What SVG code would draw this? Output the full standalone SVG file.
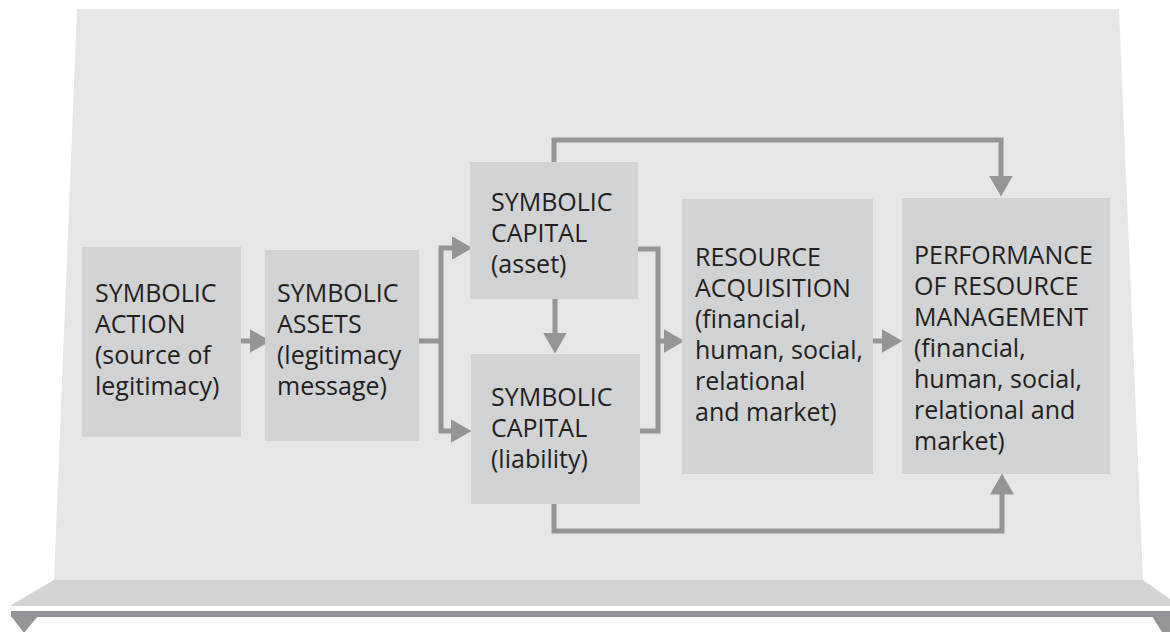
<svg xmlns="http://www.w3.org/2000/svg" width="1170" height="632" viewBox="0 0 1170 632">
<style>
.box{fill:#d1d2d4}
.t{font-family:"Open Sans","Liberation Sans",sans-serif;font-size:25px;fill:#231f20}
.c{fill:none;stroke:#939598;stroke-width:5;stroke-linejoin:miter}
.a{marker-end:url(#ah)}
</style>
<defs>
<marker id="ah" viewBox="0 -12 21 24" markerWidth="21" markerHeight="24" refX="0.5" refY="0" markerUnits="userSpaceOnUse" orient="auto">
<path d="M0,-12 L21,0 L0,12 z" fill="#939598"/>
</marker>
</defs>
<rect width="1170" height="632" fill="#ffffff"/>
<g id="stand">
<polygon points="77,9 1119,9 1143,580 54,580" fill="#e5e6e8"/>
<polygon points="54,580 1143,580 1170,599 1170,606 11,606 11,605" fill="#d2d3d5"/>
<rect x="11" y="611" width="1159" height="6" fill="#939598"/>
<polygon points="11,616 38,616 24,633" fill="#939598"/>
<polygon points="1152,616 1170,616 1170,632 1162,632" fill="#939598"/>
</g>
<g id="connectors">
<path class="c a" d="M241,341 H250"/>
<path class="c" d="M419,341 H441"/>
<path class="c a" d="M441,341 V248 H452"/>
<path class="c a" d="M441,341 V431 H451"/>
<path class="c a" d="M555,299 V333"/>
<path class="c" d="M638,249 H658 V341"/>
<path class="c" d="M640,431 H658 V341"/>
<path class="c a" d="M656,341 H664"/>
<path class="c a" d="M873,341 H882"/>
<path class="c a" d="M554,162 V140 H1001 V176"/>
<path class="c a" d="M554,504 V531 H1002 V494"/>
</g>
<g id="n1">
<rect class="box" x="82" y="247" width="159" height="190"/>
<text class="t" x="95" y="302">SYMBOLIC</text>
<text class="t" x="95" y="333">ACTION</text>
<text class="t" x="95" y="364">(source of</text>
<text class="t" x="95" y="395">legitimacy)</text>
</g>
<g id="n2">
<rect class="box" x="265" y="250" width="154" height="191"/>
<text class="t" x="277" y="302">SYMBOLIC</text>
<text class="t" x="277" y="333">ASSETS</text>
<text class="t" x="277" y="364">(legitimacy</text>
<text class="t" x="277" y="395">message)</text>
</g>
<g id="n3">
<rect class="box" x="470" y="162" width="168" height="137"/>
<text class="t" x="491" y="211">SYMBOLIC</text>
<text class="t" x="491" y="242">CAPITAL</text>
<text class="t" x="491" y="273">(asset)</text>
</g>
<g id="n4">
<rect class="box" x="471" y="354" width="169" height="150"/>
<text class="t" x="491" y="406">SYMBOLIC</text>
<text class="t" x="491" y="437">CAPITAL</text>
<text class="t" x="491" y="468">(liability)</text>
</g>
<g id="n5">
<rect class="box" x="682" y="199" width="191" height="275"/>
<text class="t" x="695" y="266">RESOURCE</text>
<text class="t" x="695" y="297">ACQUISITION</text>
<text class="t" x="695" y="328">(financial,</text>
<text class="t" x="695" y="359">human, social,</text>
<text class="t" x="695" y="390">relational</text>
<text class="t" x="695" y="421">and market)</text>
</g>
<g id="n6">
<rect class="box" x="902" y="198" width="208" height="276"/>
<text class="t" x="914" y="264">PERFORMANCE</text>
<text class="t" x="914" y="295">OF RESOURCE</text>
<text class="t" x="914" y="326">MANAGEMENT</text>
<text class="t" x="914" y="357">(financial,</text>
<text class="t" x="914" y="388">human, social,</text>
<text class="t" x="914" y="419">relational and</text>
<text class="t" x="914" y="450">market)</text>
</g>
</svg>
